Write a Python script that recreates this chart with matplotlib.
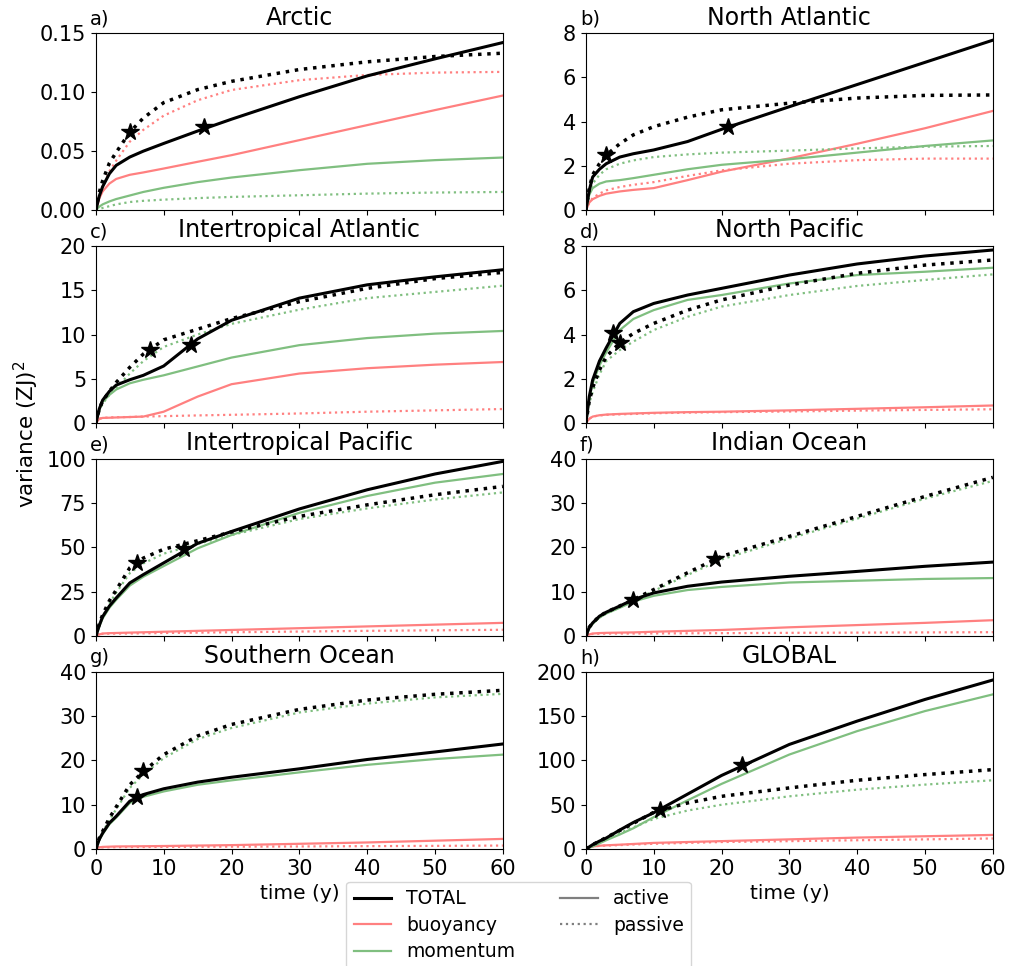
import matplotlib
matplotlib.use("Agg")
import matplotlib.pyplot as plt
from matplotlib.lines import Line2D

# ---------------- data ----------------
time = [0, 0.5, 1, 2, 3, 5, 7, 10, 15, 20, 30, 40, 50, 60]

titles = ["Arctic", "North Atlantic", "Intertropical Atlantic", "North Pacific",
          "Intertropical Pacific", "Indian Ocean", "Southern Ocean", "GLOBAL"]
panel_labels = ["a)", "b)", "c)", "d)", "e)", "f)", "g)", "h)"]
ylims = [0.15, 8, 20, 8, 100, 40, 40, 200]
ysteps = [0.05, 2, 5, 2, 25, 10, 10, 50]

# Arctic
arc_tot_act = [0, 0.012, 0.020, 0.031, 0.038, 0.045, 0.050, 0.0565, 0.067, 0.077, 0.096, 0.1136, 0.128, 0.1418]
arc_tot_pas = [0, 0.015, 0.025, 0.040, 0.049, 0.066, 0.078, 0.091, 0.102, 0.109, 0.119, 0.1255, 0.130, 0.1328]
arc_buo_act = [0, 0.010, 0.016, 0.0226, 0.0265, 0.030, 0.032, 0.0353, 0.041, 0.0466, 0.0593, 0.072, 0.0847, 0.097]
arc_buo_pas = [0, 0.012, 0.020, 0.033, 0.042, 0.058, 0.068, 0.080, 0.093, 0.1017, 0.110, 0.1144, 0.1164, 0.117]
arc_mom_act = [0, 0.003, 0.005, 0.0075, 0.0095, 0.0125, 0.0155, 0.019, 0.0238, 0.0277, 0.0339, 0.0393, 0.0424, 0.0446]
arc_mom_pas = [0, 0.001, 0.002, 0.0035, 0.005, 0.007, 0.008, 0.009, 0.0103, 0.0113, 0.0127, 0.0141, 0.015, 0.0155]
arc_stars_t = [5, 16]
arc_stars_v = [0.066, 0.070]

# North Atlantic
nat_tot_act = [0, 0.9, 1.5, 1.85, 2.1, 2.4, 2.55, 2.72, 3.1, 3.65, 4.67, 5.67, 6.67, 7.67]
nat_tot_pas = [0, 1.0, 1.6, 2.1, 2.49, 3.0, 3.4, 3.77, 4.2, 4.53, 4.83, 5.06, 5.18, 5.2]
nat_buo_act = [0, 0.35, 0.5, 0.65, 0.75, 0.85, 0.92, 1.0, 1.36, 1.74, 2.34, 3.0, 3.7, 4.48]
nat_buo_pas = [0, 0.35, 0.55, 0.75, 0.9, 1.05, 1.15, 1.27, 1.55, 1.8, 2.1, 2.26, 2.33, 2.33]
nat_mom_act = [0, 0.7, 1.0, 1.2, 1.3, 1.36, 1.45, 1.6, 1.85, 2.05, 2.3, 2.6, 2.9, 3.15]
nat_mom_pas = [0, 0.8, 1.2, 1.6, 1.85, 2.1, 2.25, 2.4, 2.52, 2.6, 2.69, 2.79, 2.87, 2.9]
nat_stars_t = [3, 21]
nat_stars_v = [2.49, 3.77]

# Intertropical Atlantic
ita_tot_act = [0, 1.6, 2.6, 3.6, 4.3, 4.9, 5.4, 6.45, 9.5, 11.6, 14.1, 15.6, 16.5, 17.3]
ita_tot_pas = [0, 1.6, 2.5, 3.6, 4.6, 6.3, 7.8, 9.4, 10.6, 11.8, 13.7, 15.2, 16.3, 17.0]
ita_buo_act = [0, 0.5, 0.6, 0.62, 0.65, 0.7, 0.75, 1.3, 3.0, 4.4, 5.6, 6.2, 6.6, 6.9]
ita_buo_pas = [0, 0.5, 0.6, 0.65, 0.68, 0.7, 0.75, 0.8, 0.88, 0.95, 1.1, 1.3, 1.45, 1.6]
ita_mom_act = [0, 1.5, 2.4, 3.2, 3.8, 4.5, 4.9, 5.4, 6.4, 7.4, 8.8, 9.6, 10.1, 10.4]
ita_mom_pas = [0, 1.4, 2.2, 3.2, 4.0, 5.6, 7.0, 8.6, 10.0, 11.2, 12.8, 14.1, 14.8, 15.5]
ita_stars_t = [8, 14]
ita_stars_v = [8.3, 8.8]

# North Pacific
npa_tot_act = [0, 1.2, 1.95, 2.8, 3.4, 4.5, 5.03, 5.4, 5.78, 6.08, 6.68, 7.18, 7.54, 7.81]
npa_tot_pas = [0, 1.0, 1.6, 2.4, 3.0, 3.63, 4.05, 4.5, 5.1, 5.56, 6.23, 6.76, 7.13, 7.36]
npa_buo_act = [0, 0.2, 0.3, 0.36, 0.39, 0.42, 0.44, 0.47, 0.5, 0.52, 0.58, 0.65, 0.72, 0.8]
npa_buo_pas = [0, 0.2, 0.3, 0.35, 0.38, 0.4, 0.42, 0.45, 0.48, 0.5, 0.53, 0.57, 0.6, 0.63]
npa_mom_act = [0, 1.1, 1.8, 2.6, 3.2, 4.2, 4.7, 5.1, 5.56, 5.78, 6.3, 6.68, 6.83, 7.01]
npa_mom_pas = [0, 0.9, 1.4, 2.2, 2.8, 3.3, 3.68, 4.2, 4.8, 5.26, 5.78, 6.19, 6.46, 6.71]
npa_stars_t = [4, 5]
npa_stars_v = [4.08, 3.63]

# Intertropical Pacific
itp_tot_act = [0, 6, 11, 17, 21.5, 30, 34.7, 41.3, 52.3, 59, 71.7, 82.5, 91.4, 98.5]
itp_tot_pas = [0, 7, 12, 20, 26, 38.5, 44, 49, 53.8, 58.7, 67.5, 74, 79.7, 84.4]
itp_buo_act = [0, 1.0, 1.5, 1.7, 1.8, 2.0, 2.2, 2.5, 3.0, 3.5, 4.5, 5.5, 6.5, 7.5]
itp_buo_pas = [0, 1.0, 1.3, 1.4, 1.45, 1.5, 1.6, 1.8, 2.0, 2.2, 2.6, 3.0, 3.3, 3.6]
itp_mom_act = [0, 5.5, 10, 16, 20.5, 28.5, 33.5, 39.5, 49.5, 57, 69.5, 79, 86.5, 91.4]
itp_mom_pas = [0, 6, 11, 18.5, 24.5, 35.5, 41, 46.5, 52, 57, 66, 72, 77, 81]
itp_stars_t = [6, 13]
itp_stars_v = [41.3, 49.2]

# Indian Ocean
ind_tot_act = [0, 2.0, 3.0, 4.5, 5.4, 6.8, 8.25, 9.75, 11.25, 12.2, 13.5, 14.6, 15.75, 16.7]
ind_tot_pas = [0, 2.0, 3.0, 4.5, 5.4, 6.8, 8.25, 10.5, 14.3, 18.0, 22.5, 27, 31.5, 35.8]
ind_buo_act = [0, 0.4, 0.6, 0.7, 0.75, 0.8, 0.85, 1.0, 1.2, 1.4, 2.0, 2.5, 3.0, 3.6]
ind_buo_pas = [0, 0.4, 0.5, 0.55, 0.57, 0.6, 0.6, 0.62, 0.65, 0.68, 0.75, 0.8, 0.85, 0.9]
ind_mom_act = [0, 1.8, 2.8, 4.2, 5.1, 6.4, 7.8, 9.1, 10.4, 11.1, 12.1, 12.5, 12.9, 13.1]
ind_mom_pas = [0, 1.8, 2.8, 4.2, 5.1, 6.5, 8.0, 10.2, 13.8, 17.3, 22.0, 26.5, 31.0, 35.0]
ind_stars_t = [7, 19]
ind_stars_v = [8.25, 17.4]

# Southern Ocean
sou_tot_act = [0, 2.2, 3.6, 5.9, 7.4, 10.8, 12.3, 13.6, 15.1, 16.2, 18.1, 20.2, 21.9, 23.7]
sou_tot_pas = [0, 2.5, 4.0, 7.0, 9.5, 14.5, 17.5, 21.3, 25.5, 28.1, 31.5, 33.6, 34.9, 35.8]
sou_buo_act = [0, 0.4, 0.5, 0.55, 0.6, 0.62, 0.65, 0.7, 0.8, 0.9, 1.2, 1.5, 1.9, 2.3]
sou_buo_pas = [0, 0.35, 0.4, 0.42, 0.45, 0.47, 0.48, 0.5, 0.53, 0.55, 0.6, 0.67, 0.73, 0.8]
sou_mom_act = [0, 2.1, 3.4, 5.6, 7.1, 10.4, 11.8, 13.0, 14.5, 15.5, 17.3, 19.0, 20.3, 21.3]
sou_mom_pas = [0, 2.4, 3.8, 6.6, 9.0, 13.8, 16.8, 20.5, 24.8, 27.3, 30.8, 32.8, 34.2, 35.0]
sou_stars_t = [6, 7]
sou_stars_v = [11.75, 17.5]

# GLOBAL
glo_tot_act = [0, 2.5, 5, 9, 12.5, 21.5, 30, 41, 62, 83, 118, 144.3, 168.7, 190.6]
glo_tot_pas = [0, 2.5, 5, 9, 13, 21, 29, 41.5, 52, 59.5, 69, 77.6, 84, 89.6]
glo_buo_act = [0, 2, 3, 3.8, 4.3, 5, 5.8, 7, 8, 9, 11, 13, 14.5, 16]
glo_buo_pas = [0, 2, 3, 3.6, 4, 4.5, 5.2, 6, 7, 8, 9, 10, 11, 12]
glo_mom_act = [0, 1.5, 3, 6.5, 10, 16.5, 23.5, 36, 55, 73.5, 106.6, 133, 155.6, 174.4]
glo_mom_pas = [0, 2, 4, 8, 11.5, 18, 24.5, 34, 43.5, 50, 59.5, 67, 72.7, 77.6]
glo_stars_t = [11, 23]
glo_stars_v = [44.4, 95.3]

regions = [
    (arc_tot_act, arc_tot_pas, arc_buo_act, arc_buo_pas, arc_mom_act, arc_mom_pas, arc_stars_t, arc_stars_v),
    (nat_tot_act, nat_tot_pas, nat_buo_act, nat_buo_pas, nat_mom_act, nat_mom_pas, nat_stars_t, nat_stars_v),
    (ita_tot_act, ita_tot_pas, ita_buo_act, ita_buo_pas, ita_mom_act, ita_mom_pas, ita_stars_t, ita_stars_v),
    (npa_tot_act, npa_tot_pas, npa_buo_act, npa_buo_pas, npa_mom_act, npa_mom_pas, npa_stars_t, npa_stars_v),
    (itp_tot_act, itp_tot_pas, itp_buo_act, itp_buo_pas, itp_mom_act, itp_mom_pas, itp_stars_t, itp_stars_v),
    (ind_tot_act, ind_tot_pas, ind_buo_act, ind_buo_pas, ind_mom_act, ind_mom_pas, ind_stars_t, ind_stars_v),
    (sou_tot_act, sou_tot_pas, sou_buo_act, sou_buo_pas, sou_mom_act, sou_mom_pas, sou_stars_t, sou_stars_v),
    (glo_tot_act, glo_tot_pas, glo_buo_act, glo_buo_pas, glo_mom_act, glo_mom_pas, glo_stars_t, glo_stars_v),
]

# ---------------- plot ----------------
plt.rcParams['font.family'] = ['DejaVu Sans']
TICK_FS = 15
RED = (1.0, 0.5, 0.5)
GREEN = (0.5, 0.75, 0.5)

fig, axes = plt.subplots(4, 2, figsize=(10.09, 9.66), dpi=100)
fig.subplots_adjust(left=0.095, right=0.984, bottom=0.121, top=0.966, hspace=0.2, wspace=0.204)

for i, ax in enumerate(axes.flat):
    ta, tp, ba, bp, ma, mp, st, sv = regions[i]
    ax.plot(time, ba, color=RED, lw=1.6)
    ax.plot(time, bp, color=RED, lw=1.6, ls=':')
    ax.plot(time, ma, color=GREEN, lw=1.6)
    ax.plot(time, mp, color=GREEN, lw=1.6, ls=':')
    ax.plot(time, ta, color='k', lw=2.2)
    ax.plot(time, tp, color='k', lw=2.5, ls=':')
    ax.plot(st, sv, ls='none', marker='*', ms=13, color='k')
    ax.set_xlim(0, 60)
    ax.set_ylim(0, ylims[i])
    ax.set_xticks(range(0, 61, 10))
    n = int(round(ylims[i] / ysteps[i]))
    ax.set_yticks([k * ysteps[i] for k in range(n + 1)])
    if i == 0:
        ax.set_yticklabels([f"{k * ysteps[i]:.2f}" for k in range(n + 1)])
    ax.tick_params(labelsize=TICK_FS)
    ax.set_title(titles[i], fontsize=17)
    ax.set_title(panel_labels[i], loc='left', fontsize=14, x=-0.015)
    if i < 6:
        ax.set_xticklabels([])
    else:
        ax.set_xlabel("time (y)", fontsize=14.5, labelpad=4)

fig.text(0.026, 0.55, "variance (ZJ)$^2$", rotation=90, va='center', ha='center', fontsize=15.5)

handles = [
    Line2D([], [], color='k', lw=2.2),
    Line2D([], [], color=RED, lw=1.6),
    Line2D([], [], color=GREEN, lw=1.6),
    Line2D([], [], color='k', alpha=0.5, lw=1.6),
    Line2D([], [], color='k', alpha=0.5, lw=1.6, ls=':'),
]
labels = ["TOTAL", "buoyancy", "momentum", "active", "passive"]
fig.legend(handles, labels, ncol=2, loc='upper center', bbox_to_anchor=(0.514, 0.097),
           fontsize=13.5, columnspacing=2.4, handlelength=2.0, labelspacing=0.4,
           borderpad=0.4)

fig.savefig("out.png", dpi=100)
